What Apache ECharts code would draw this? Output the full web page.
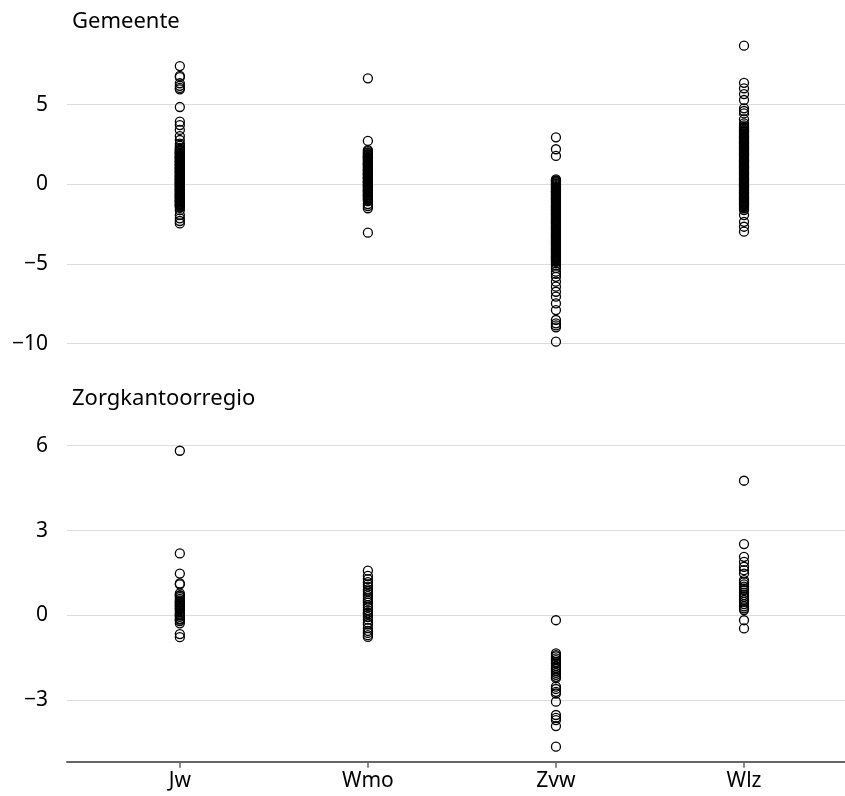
<!DOCTYPE html>
<html>
<head>
<meta charset="utf-8">
<script src="https://cdn.jsdelivr.net/npm/echarts@6/dist/echarts.min.js"></script>
<style>html,body{margin:0;padding:0;background:#fff;}#c{width:845px;height:796px;}</style>
</head>
<body>
<div id="c"></div>
<script>
const categories = ['Jw', 'Wmo', 'Zvw', 'Wlz'];
const panelTitles = ['Gemeente', 'Zorgkantoorregio'];
const topTicks = [-10, -5, 0, 5];
const bottomTicks = [-3, 0, 3, 6];

// Gemeente
const gemJw = [7.42, 6.80, 6.72, 6.34, 6.18, 6.05, 5.96, 4.85, 3.93, 3.72, 3.41, 3.03, 2.78, 2.55, 2.42,
  2.29, 2.24, 2.17, 2.12, 2.08, 2.01, 1.97, 1.93, 1.88, 1.81, 1.77, 1.74, 1.66, 1.62, 1.59, 1.52, 1.47, 1.43,
  1.38, 1.31, 1.28, 1.22, 1.19, 1.13, 1.07, 1.04, 0.98, 0.93, 0.87, 0.83, 0.79, 0.72, 0.69, 0.63, 0.58, 0.54,
  0.49, 0.43, 0.40, 0.35, 0.29, 0.26, 0.21, 0.15, 0.12, 0.06, 0.02, -0.03, -0.08, -0.11, -0.17, -0.22, -0.26,
  -0.31, -0.36, -0.41, -0.44, -0.50, -0.55, -0.58, -0.64, -0.69, -0.73, -0.78, -0.84, -0.88, -0.93, -0.99,
  -1.03, -1.09, -1.13, -1.19, -1.24, -1.28, -1.34, -1.40, -1.47, -1.62, -1.93, -2.13, -2.30, -2.45,
  1.95, 1.70, 1.45, 1.25, 1.00, 0.76, 0.51, 0.31, 0.09, -0.14, -0.33, -0.61, -0.81, -1.06, -1.31];
const gemWmo = [6.65, 2.72, 2.15, 2.08, 2.01, 1.96, 1.90, 1.84, 1.80, 1.73, 1.68, 1.62, 1.57, 1.53, 1.46,
  1.41, 1.36, 1.31, 1.25, 1.21, 1.14, 1.09, 1.05, 0.98, 0.94, 0.88, 0.83, 0.77, 0.73, 0.68, 0.61, 0.57, 0.52,
  0.46, 0.42, 0.37, 0.31, 0.27, 0.21, 0.16, 0.11, 0.07, 0.01, -0.04, -0.09, -0.14, -0.19, -0.25, -0.29, -0.35,
  -0.39, -0.45, -0.50, -0.54, -0.60, -0.66, -0.71, -0.76, -0.82, -0.87, -0.93, -0.98, -1.06, -1.24, -1.36, -1.50, -3.03,
  1.70, 1.28, 0.91, 0.64, 0.39, 0.13, -0.12, -0.42, -0.68];
const gemZvw = [2.95, 2.20, 1.78, 0.31, 0.24, 0.18, 0.13, 0.06, 0.01, -0.05, -0.11, -0.16, -0.22, -0.27, -0.33,
  -0.39, -0.43, -0.49, -0.55, -0.60, -0.66, -0.71, -0.77, -0.82, -0.88, -0.93, -0.99, -1.04, -1.10, -1.16, -1.21,
  -1.26, -1.32, -1.37, -1.43, -1.49, -1.54, -1.59, -1.65, -1.71, -1.76, -1.82, -1.87, -1.93, -1.98, -2.04, -2.09,
  -2.15, -2.21, -2.26, -2.31, -2.37, -2.43, -2.48, -2.53, -2.59, -2.65, -2.70, -2.76, -2.81, -2.87, -2.92, -2.98,
  -3.03, -3.09, -3.14, -3.20, -3.26, -3.31, -3.36, -3.42, -3.48, -3.53, -3.58, -3.64, -3.70, -3.75, -3.81, -3.86,
  -3.92, -3.97, -4.03, -4.08, -4.14, -4.20, -4.25, -4.31, -4.36, -4.42, -4.47, -4.53, -4.59, -4.64, -4.70, -4.76,
  -4.81, -4.87, -4.96, -5.10, -5.25, -5.48, -5.62, -5.80, -6.11, -6.42, -6.74, -7.05, -7.47, -7.89, -8.51, -8.72,
  -8.85, -8.97, -9.87, -0.46, -0.91, -1.40, -1.85, -2.34, -2.79, -3.23, -3.67, -4.11, -4.56];
const gemWlz = [8.70, 6.37, 6.02, 5.66, 5.29, 4.77, 4.60, 4.45, 4.08, 3.83, 3.70, 3.61, 3.55, 3.49, 3.43, 3.38,
  3.31, 3.27, 3.21, 3.15, 3.10, 3.04, 2.99, 2.93, 2.87, 2.82, 2.76, 2.71, 2.66, 2.59, 2.55, 2.49, 2.43, 2.38, 2.32,
  2.27, 2.21, 2.16, 2.10, 2.04, 1.99, 1.93, 1.88, 1.82, 1.77, 1.71, 1.65, 1.60, 1.54, 1.49, 1.43, 1.38, 1.32, 1.26,
  1.21, 1.15, 1.10, 1.04, 0.99, 0.93, 0.87, 0.82, 0.76, 0.71, 0.65, 0.60, 0.54, 0.48, 0.43, 0.37, 0.32, 0.26, 0.21,
  0.15, 0.09, 0.04, -0.02, -0.07, -0.13, -0.18, -0.24, -0.30, -0.35, -0.41, -0.46, -0.52, -0.57, -0.63, -0.69,
  -0.74, -0.80, -0.85, -0.91, -0.96, -1.02, -1.08, -1.13, -1.19, -1.24, -1.30, -1.36, -1.42, -1.50, -1.61, -1.93,
  -2.35, -2.66, -2.97, 3.34, 2.96, 2.62, 2.24, 1.85, 1.46, 1.07, 0.68, 0.29, -0.10, -0.49, -0.88, -1.27];

// Zorgkantoorregio
const zkrJw = [5.82, 2.19, 1.48, 1.13, 1.10, 0.78, 0.72, 0.70, 0.65, 0.58, 0.52, 0.48, 0.45, 0.40, 0.36, 0.34,
  0.30, 0.25, 0.22, 0.18, 0.12, 0.06, 0.02, 0.00, -0.05, -0.12, -0.15, -0.20, -0.28, -0.66, -0.77];
const zkrWmo = [1.58, 1.40, 1.28, 1.18, 1.10, 1.02, 0.92, 0.85, 0.76, 0.68, 0.60, 0.52, 0.45, 0.36, 0.28, 0.18,
  0.10, 0.08, 0.02, -0.06, -0.15, -0.25, -0.32, -0.45, -0.55, -0.62, -0.70, -0.76];
const zkrZvw = [-0.17, -1.34, -1.40, -1.45, -1.52, -1.58, -1.65, -1.70, -1.78, -1.85, -1.90, -1.97, -2.03, -2.10,
  -2.17, -2.22, -2.52, -2.60, -2.70, -2.76, -3.05, -3.52, -3.62, -3.70, -3.91, -4.64];
const zkrWlz = [4.76, 2.52, 2.07, 1.89, 1.72, 1.60, 1.48, 1.25, 1.18, 1.10, 1.02, 0.95, 0.89, 0.80, 0.72, 0.65,
  0.55, 0.48, 0.40, 0.32, 0.25, 0.19, -0.17, -0.46];

const gemeenteSets = [gemJw, gemWmo, gemZvw, gemWlz];
const zkrSets = [zkrJw, zkrWmo, zkrZvw, zkrWlz];

function toPoints(sets) {
  const out = [];
  sets.forEach((arr, i) => arr.forEach(v => out.push([i + 1, v])));
  return out;
}
const FONT = '"Noto Sans", "Open Sans", sans-serif';
const minus = v => String(v).replace('-', '\u2212');
const xIdx = [1, 2, 3, 4];

const chart = echarts.init(document.getElementById('c'), null, {renderer: 'canvas'});
const sym = {
  type: 'scatter', symbol: 'circle', symbolSize: 9,
  itemStyle: {color: 'rgba(0,0,0,0)', borderColor: '#000', borderWidth: 1.3, opacity: 1},
  emphasis: {disabled: true}, silent: true, animation: false
};
chart.setOption({
  animation: false,
  textStyle: {fontFamily: FONT},
  title: [
    {text: panelTitles[0], left: 67, top: 6, textStyle: {fontFamily: FONT, fontSize: 22, fontWeight: 'normal', color: '#000'}},
    {text: panelTitles[1], left: 67, top: 383, textStyle: {fontFamily: FONT, fontSize: 22, fontWeight: 'normal', color: '#000'}}
  ],
  grid: [
    {left: 67, width: 778, top: 32.9, height: 318.8},
    {left: 67, width: 778, top: 431.5, height: 330.2}
  ],
  xAxis: [
    {type: 'value', gridIndex: 0, min: 0.4, max: 4.537, show: false, splitLine: {show: false}},
    {type: 'value', gridIndex: 1, min: 0.4, max: 4.537, splitLine: {show: false},
      axisLine: {show: true, onZero: false, lineStyle: {color: '#666', width: 2}},
      axisTick: {show: true, length: 6, lineStyle: {color: '#666', width: 1.5}, customValues: xIdx},
      axisLabel: {customValues: xIdx, fontSize: 21, color: '#000', margin: 9, fontFamily: FONT,
        formatter: v => categories[Math.round(v) - 1] || ''}}
  ],
  yAxis: [
    {type: 'value', gridIndex: 0, min: -10.5, max: 9.5,
      axisLine: {show: false}, axisTick: {show: false, customValues: topTicks},
      axisLabel: {customValues: topTicks, fontSize: 21, color: '#000', margin: 19, fontFamily: FONT, formatter: minus},
      splitLine: {show: true, lineStyle: {color: '#dcdcdc', width: 1}}},
    {type: 'value', gridIndex: 1, min: -5.17, max: 6.5,
      axisLine: {show: false}, axisTick: {show: false, customValues: bottomTicks},
      axisLabel: {customValues: bottomTicks, fontSize: 21, color: '#000', margin: 19, fontFamily: FONT, formatter: minus},
      splitLine: {show: true, lineStyle: {color: '#dcdcdc', width: 1}}}
  ],
  series: [
    Object.assign({}, sym, {xAxisIndex: 0, yAxisIndex: 0, data: toPoints(gemeenteSets)}),
    Object.assign({}, sym, {xAxisIndex: 1, yAxisIndex: 1, data: toPoints(zkrSets)})
  ]
});
</script>
</body>
</html>
